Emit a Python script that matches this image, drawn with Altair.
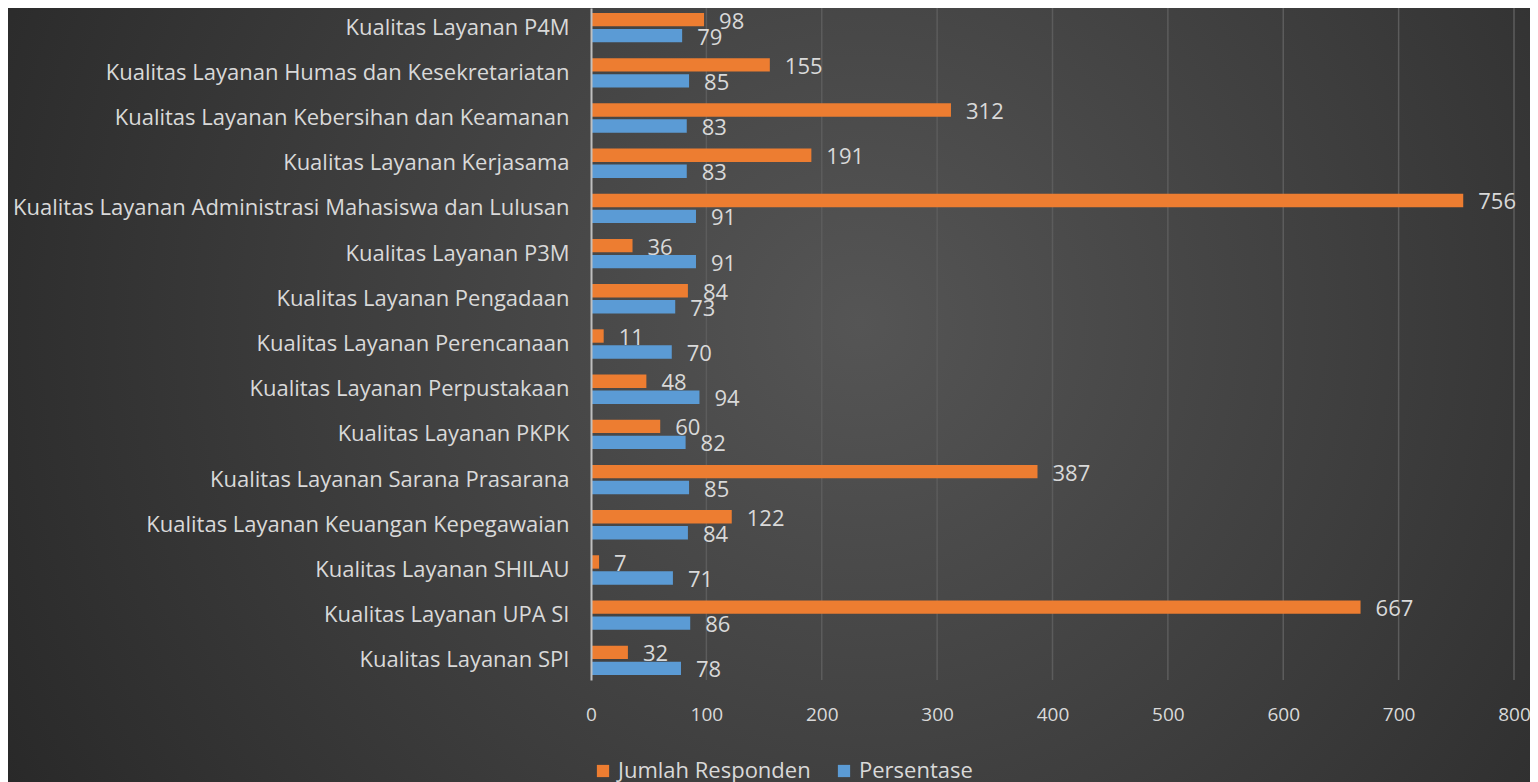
import altair as alt
import pandas as pd

kategori = [
    "Kualitas Layanan P4M",
    "Kualitas Layanan Humas dan Kesekretariatan",
    "Kualitas Layanan Kebersihan dan Keamanan",
    "Kualitas Layanan Kerjasama",
    "Kualitas Layanan Administrasi Mahasiswa dan Lulusan",
    "Kualitas Layanan P3M",
    "Kualitas Layanan Pengadaan",
    "Kualitas Layanan Perencanaan",
    "Kualitas Layanan Perpustakaan",
    "Kualitas Layanan PKPK",
    "Kualitas Layanan Sarana Prasarana",
    "Kualitas Layanan Keuangan Kepegawaian",
    "Kualitas Layanan SHILAU",
    "Kualitas Layanan UPA SI",
    "Kualitas Layanan SPI",
]
jumlah_responden = [98, 155, 312, 191, 756, 36, 84, 11, 48, 60, 387, 122, 7, 667, 32]
persentase = [79, 85, 83, 83, 91, 91, 73, 70, 94, 82, 85, 84, 71, 86, 78]
seri = ["Jumlah Responden", "Persentase"]
warna = ["#ED7D31", "#5B9BD5"]
x_ticks = [0, 100, 200, 300, 400, 500, 600, 700, 800]

rows = []
for k, j, p in zip(kategori, jumlah_responden, persentase):
    rows.append({"kategori": k, "seri": seri[0], "nilai": j})
    rows.append({"kategori": k, "seri": seri[1], "nilai": p})
df = pd.DataFrame(rows)

FONT = "Open Sans, Lato, sans-serif"
TXT = "#d9d9d9"
W, H = 923, 672
PB = 110
PR = 16

bg = alt.Chart(pd.DataFrame({"a": [0]})).mark_rect(
    color=alt.RadialGradient(
        gradient="radial",
        stops=[alt.GradientStop(offset=0, color="#555555"),
               alt.GradientStop(offset=1, color="#262626")],
        x1=0.56, y1=0.45, r1=0, x2=0.56, y2=0.45, r2=0.68,
    )
).encode(
    x=alt.value(-583), x2=alt.value(W + PR),
    y=alt.value(0), y2=alt.value(H + PB),
)

xscale = alt.Scale(domain=[0, 800], nice=False)

xaxis = alt.Axis(
    zindex=1, domain=False, ticks=False, grid=False, values=x_ticks,
    labelFontSize=19, labelColor=TXT, labelFont=FONT, labelPadding=25,
    labelFlush=False, title=None,
)
yaxis = alt.Axis(
    zindex=1, domainColor="#bfbfbf", domainWidth=2, ticks=False, grid=False,
    labelFontSize=22, labelColor=TXT, labelFont=FONT, labelPadding=22,
    labelLimit=700, title=None,
)

grid = alt.Chart(pd.DataFrame({"t": x_ticks[1:]})).mark_rule(
    color="#5c5c5c", strokeWidth=1.5
).encode(x=alt.X("t:Q", scale=xscale, axis=xaxis, title=None))

base = alt.Chart(df).encode(
    y=alt.Y("kategori:N", sort=kategori, title=None, axis=yaxis,
            scale=alt.Scale(paddingInner=0.35, paddingOuter=0.11)),
    yOffset=alt.YOffset("seri:N", sort=seri,
                        scale=alt.Scale(paddingInner=0.1625, paddingOuter=0)),
)

bars = base.mark_bar(cornerRadius=0).encode(
    x=alt.X("nilai:Q", scale=xscale, title=None, axis=xaxis),
    color=alt.Color("seri:N", sort=seri,
                    scale=alt.Scale(domain=seri, range=warna),
                    legend=alt.Legend(
                        title=None, orient="none", direction="horizontal",
                        legendX=1, legendY=752, zindex=1,
                        symbolType="square", symbolSize=150, symbolStrokeWidth=0,
                        labelFontSize=22, labelColor=TXT, labelFont=FONT,
                        labelOffset=4, columnPadding=22, labelLimit=400,
                    )),
)

labels = base.mark_text(
    align="left", baseline="middle", dx=15, dy=2,
    fontSize=22, color=TXT, font=FONT,
).encode(
    x=alt.X("nilai:Q", scale=xscale, title=None, axis=xaxis),
    text=alt.Text("nilai:Q"),
)

chart = alt.layer(bg, grid, bars, labels).resolve_scale(x="shared").properties(
    width=W, height=H,
    autosize=alt.AutoSizeParams(type="none"),
    padding={"left": 583, "top": 0, "right": PR, "bottom": PB},
    background="#2e2e2e",
).configure_view(stroke=None)

chart.save("out.html", embed_options={"renderer": "svg", "actions": False})
